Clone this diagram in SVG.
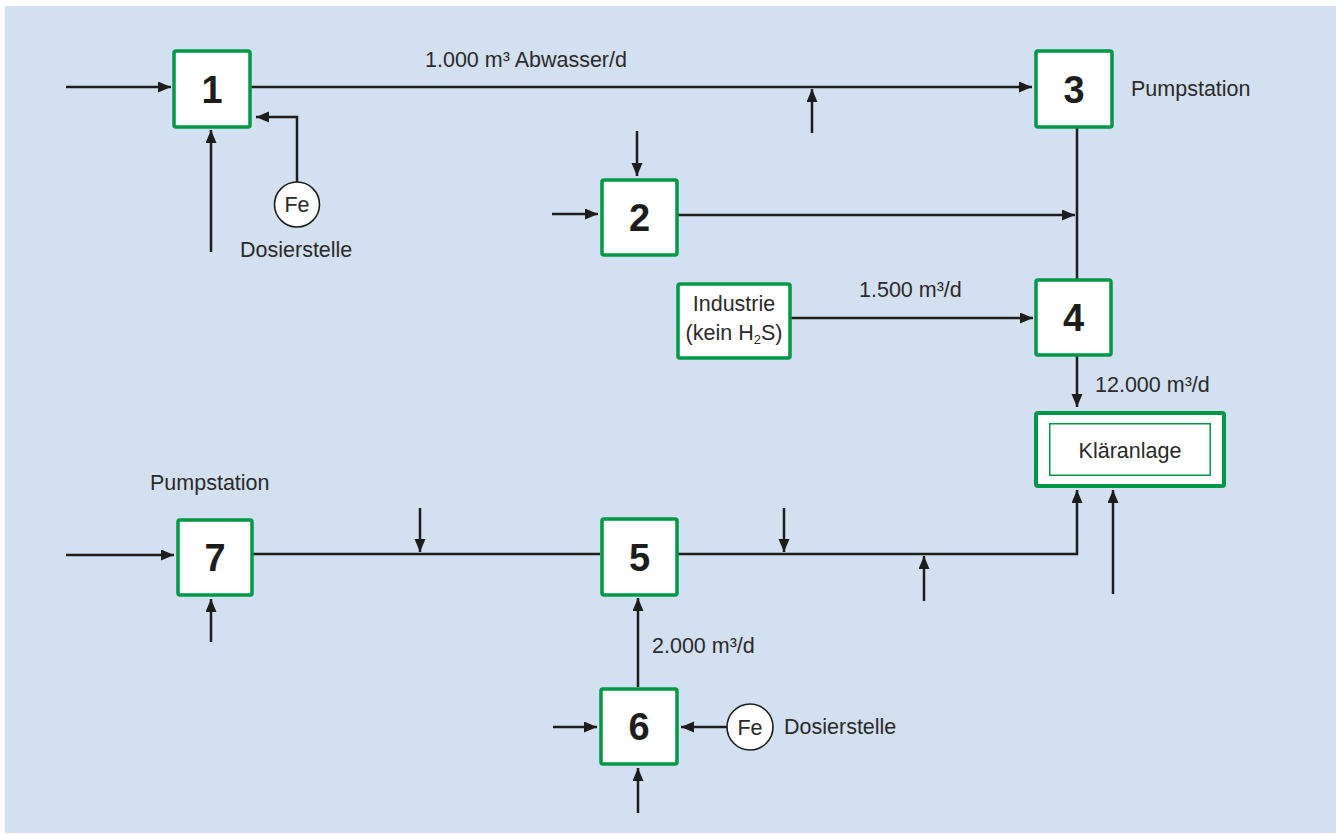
<svg xmlns="http://www.w3.org/2000/svg" width="1338" height="834" viewBox="0 0 1338 834">
<defs>
<marker id="ah" markerUnits="userSpaceOnUse" markerWidth="14" markerHeight="12" refX="13" refY="5.5" orient="auto" viewBox="0 0 14 12">
<path d="M0,0 L13,5.5 L0,11 z" fill="#1d1d1b"/>
</marker>
<style>
.box{fill:#ffffff;stroke:#009846;stroke-width:3.5}
.num{font-family:"Liberation Sans",Arial,sans-serif;font-weight:bold;font-size:38px;fill:#1d1d1b;text-anchor:middle}
.lbl{font-family:"Liberation Sans",Arial,sans-serif;font-size:21.5px;fill:#2b2a29}
.mid{text-anchor:middle}
.ln{fill:none;stroke:#1d1d1b;stroke-width:2.5}
.ar{fill:none;stroke:#1d1d1b;stroke-width:2.5;marker-end:url(#ah)}
.fe{fill:#ffffff;stroke:#1d1d1b;stroke-width:1.6}
</style>
</defs>
<rect x="0" y="0" width="1338" height="834" fill="#ffffff"/>
<rect x="5" y="6" width="1331" height="827" fill="#d3e0f1"/>

<g id="connectors">
<line class="ar" x1="66" y1="87" x2="171" y2="87"/>
<line class="ar" x1="251" y1="87" x2="1032" y2="87"/>
<line class="ar" x1="812" y1="133" x2="812" y2="89"/>
<line class="ar" x1="211" y1="252" x2="211" y2="130"/>
<polyline class="ar" points="297,182 297,117 256,117"/>
<line class="ar" x1="637" y1="131" x2="637" y2="176"/>
<line class="ar" x1="552" y1="214" x2="598" y2="214"/>
<line class="ar" x1="678" y1="215" x2="1075" y2="215"/>
<line class="ln" x1="1077" y1="128" x2="1077" y2="279"/>
<line class="ar" x1="791" y1="318" x2="1033" y2="318"/>
<line class="ar" x1="1077" y1="356" x2="1077" y2="407"/>
<line class="ar" x1="66" y1="555" x2="174" y2="555"/>
<line class="ar" x1="211" y1="642" x2="211" y2="599"/>
<line class="ln" x1="253" y1="554" x2="600" y2="554"/>
<polyline class="ar" points="678,554 1077,554 1077,490"/>
<line class="ar" x1="420" y1="508" x2="420" y2="552"/>
<line class="ar" x1="784" y1="508" x2="784" y2="552"/>
<line class="ar" x1="924" y1="601" x2="924" y2="556"/>
<line class="ar" x1="1113" y1="594" x2="1113" y2="490"/>
<line class="ar" x1="638" y1="687" x2="638" y2="598"/>
<line class="ar" x1="553" y1="727" x2="597" y2="727"/>
<line class="ar" x1="638" y1="813" x2="638" y2="768"/>
<line class="ar" x1="727" y1="727" x2="681" y2="727"/>
<text class="lbl" x="425" y="67">1.000 m³ Abwasser/d</text>
<text class="lbl" x="859" y="297">1.500 m³/d</text>
<text class="lbl" x="1095" y="392">12.000 m³/d</text>
<text class="lbl" x="652" y="653">2.000 m³/d</text>
</g>

<g id="node1">
<rect class="box" x="174" y="51" width="76" height="76" rx="2"/>
<text class="num" x="212" y="103">1</text>
</g>
<g id="node2">
<rect class="box" x="602" y="180" width="75" height="75" rx="2"/>
<text class="num" x="639.5" y="231">2</text>
</g>
<g id="node3">
<rect class="box" x="1036" y="51" width="76" height="76" rx="2"/>
<text class="num" x="1074" y="103">3</text>
<text class="lbl" x="1131" y="96">Pumpstation</text>
</g>
<g id="node4">
<rect class="box" x="1036" y="280" width="75" height="75" rx="2"/>
<text class="num" x="1073.5" y="331">4</text>
</g>
<g id="node5">
<rect class="box" x="602" y="519" width="75" height="76" rx="2"/>
<text class="num" x="639.5" y="571">5</text>
</g>
<g id="node6">
<rect class="box" x="601" y="689" width="76" height="75" rx="2"/>
<text class="num" x="639" y="740">6</text>
</g>
<g id="node7">
<rect class="box" x="178" y="520" width="74" height="75" rx="2"/>
<text class="num" x="215" y="571">7</text>
<text class="lbl" x="150" y="490">Pumpstation</text>
</g>
<g id="industrie">
<rect class="box" x="678" y="284" width="112" height="74" rx="2"/>
<text class="lbl mid" x="734" y="311">Industrie</text>
<text class="lbl mid" x="734" y="340">(kein H<tspan font-size="13" dy="4">2</tspan><tspan dy="-4">S)</tspan></text>
</g>
<g id="klaeranlage">
<rect x="1036" y="413" width="188" height="73" rx="2" fill="#ffffff" stroke="#009846" stroke-width="4"/>
<rect x="1049.75" y="423.75" width="160.5" height="51.5" fill="#ffffff" stroke="#009846" stroke-width="1.5"/>
<text class="lbl mid" x="1130" y="458">Kläranlage</text>
</g>
<g id="fe1">
<circle class="fe" cx="297" cy="204.5" r="22.5"/>
<text class="lbl mid" x="297" y="212">Fe</text>
<text class="lbl" x="240" y="257">Dosierstelle</text>
</g>
<g id="fe2">
<circle class="fe" cx="750" cy="727" r="23"/>
<text class="lbl mid" x="750" y="734.5">Fe</text>
<text class="lbl" x="784" y="734">Dosierstelle</text>
</g>
</svg>
